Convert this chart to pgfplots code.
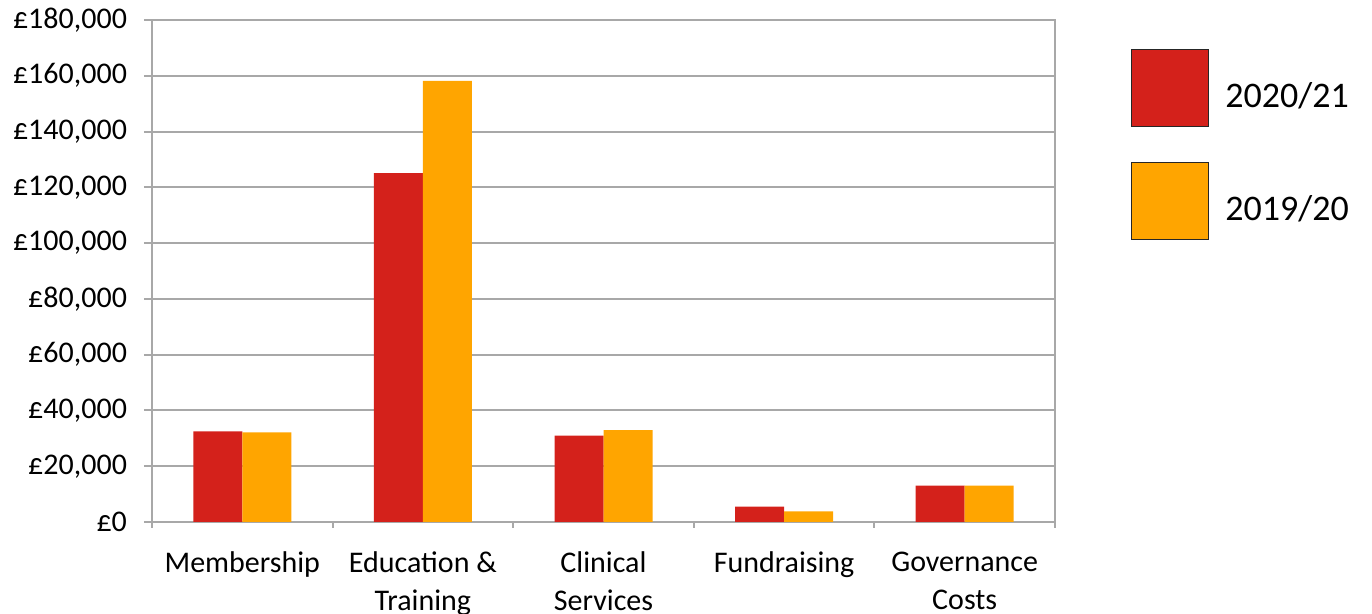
\documentclass[border=0pt]{standalone}
\usepackage{fontspec}
\setmainfont{Carlito}
\usepackage{pgfplots}
\pgfplotsset{compat=1.18}
\definecolor{barred}{RGB}{212,33,27}
\definecolor{barorange}{RGB}{255,165,0}
\definecolor{gridgray}{RGB}{168,168,168}
\begin{document}
\begin{tikzpicture}
\begin{axis}[
  name=ax,
  scale only axis,
  width=451.5pt, height=251pt,
  ybar=0pt, bar width=24.5pt,
  xmin=-0.5, xmax=4.5, ymin=0, ymax=180000,
  xtick={0,...,4},
  xtick pos=bottom, ytick pos=left,
  xticklabels={Membership, {Education \&\\Training}, {Clinical\\Services}, Fundraising, {Governance\\Costs}},
  x tick label style={align=center, font=\fontsize{15}{19}\selectfont, anchor=north, yshift=-7.5pt},
  major x tick style={draw=none},
  minor xtick={-0.5,0.5,...,4.5},
  minor tick length=3pt,
  ytick={0,20000,...,180000},
  scaled y ticks=false,
  yticklabel={£\pgfmathprintnumber[fixed,1000 sep={,},assume math mode=true]{\tick}},
  y tick label style={font=\fontsize{15}{18}\selectfont, xshift=-5pt},
  tick align=outside, major tick length=4pt,
  axis line style={gridgray, line width=1pt},
  ymajorgrids, grid style={gridgray, line width=1pt},
  tick style={gridgray, line width=1pt},
  legend style={draw=none, at={(1,1)}, anchor=north west, xshift=38pt, yshift=-14.5pt,
    font=\fontsize{18}{22}\selectfont, row sep=17.3pt, inner sep=0pt, outer sep=0pt,
    column sep=6pt},
  legend cell align=left,
  legend image code/.code={\draw[#1, draw=black!85, line width=0.7pt] (0pt,-15pt) rectangle (38.5pt,23.5pt);},
]
\addplot[fill=barred, draw=none] coordinates {(0,32500) (1,125100) (2,31000) (3,5500) (4,13000)};
\addplot[fill=barorange, draw=none] coordinates {(0,32100) (1,158200) (2,32900) (3,3800) (4,13000)};
\legend{2020/21, 2019/20}
\end{axis}
\pgfresetboundingbox
\path ([xshift=-76pt,yshift=-46pt]ax.south west) rectangle ([xshift=158.5pt,yshift=10pt]ax.north east);
\end{tikzpicture}
\end{document}
